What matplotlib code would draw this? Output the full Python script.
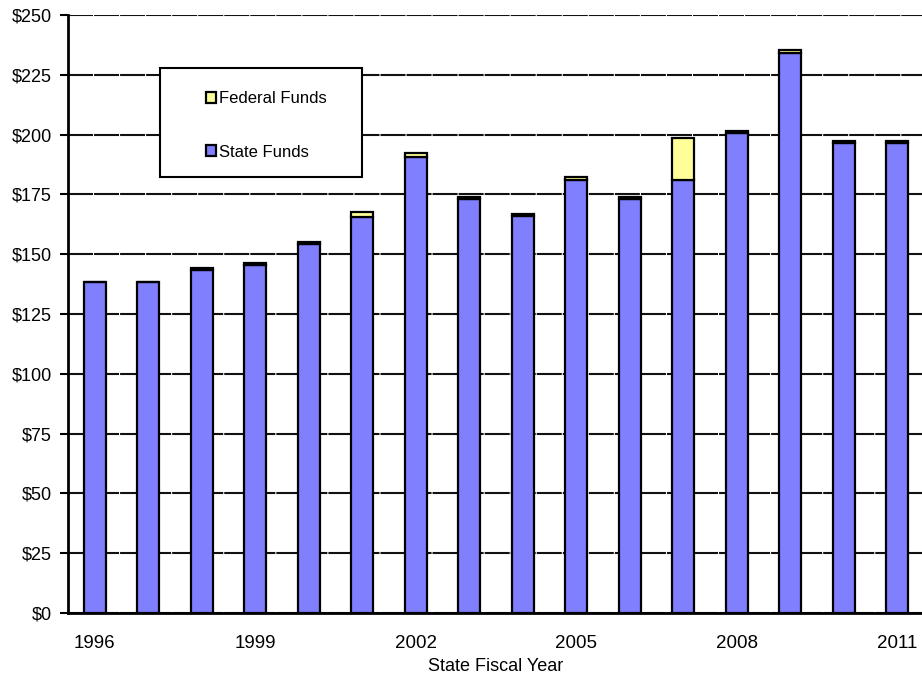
import matplotlib
matplotlib.use("Agg")
import matplotlib.pyplot as plt
import numpy as np
from matplotlib.patches import Rectangle

# funding by state fiscal year, in millions
years = list(range(1996, 2012))
state_funds = [138.5, 138.5, 143.5, 145.5, 154.2, 165.5, 190.7, 173.0,
               165.8, 181.2, 173.0, 181.0, 200.8, 234.3, 196.3, 196.3]
federal_funds = [0.0, 0.0, 0.9, 0.9, 0.8, 2.0, 1.5, 0.9,
                 0.8, 0.9, 0.9, 17.5, 0.9, 0.9, 0.9, 0.9]
y_ticks = list(range(0, 251, 25))

plt.rcParams['font.family'] = ['Liberation Sans', 'DejaVu Sans']

fig = plt.figure(figsize=(9.22, 6.83), dpi=100)
ax = fig.add_axes([68 / 922, 1 - 613 / 683, 856 / 922, 598 / 683])

x = np.arange(len(years))
w = 0.41
b_state = ax.bar(x, state_funds, w, color='#8080FF', edgecolor='black',
                 linewidth=1.6, zorder=3, label='State Funds')
b_fed = ax.bar(x, federal_funds, w, bottom=state_funds, color='#FFFF99',
               edgecolor='black', linewidth=1.6, zorder=3, label='Federal Funds')

ax.set_xlim(-0.5, len(years) - 0.5)
ax.set_ylim(0, 250)
ax.set_yticks(y_ticks)
ax.set_yticklabels(['$%d' % v for v in y_ticks], fontsize=13)
ax.yaxis.grid(True, color='#111111', linewidth=1.5, linestyle=(0, (12, 0.5)), zorder=0)

ax.set_xticks(x[::3])
ax.set_xticklabels([str(y) for y in years[::3]], fontsize=13.5)
ax.tick_params(axis='x', length=0, pad=16)
ax.tick_params(axis='y', length=6, width=1.5, direction='out', pad=5.5)
ax.set_xlabel('State Fiscal Year', fontsize=13, labelpad=4.5)

for s in ['top', 'right']:
    ax.spines[s].set_visible(False)
ax.spines['left'].set_linewidth(2)
ax.spines['bottom'].set_linewidth(2)

# legend box drawn by hand, entries placed inside
fig.patches.append(Rectangle((160 / 922, 1 - 177 / 683), 202 / 922, 109 / 683,
                             transform=fig.transFigure, facecolor='white',
                             edgecolor='black', linewidth=1.5, zorder=5))
leg = fig.legend([b_fed, b_state], ['Federal Funds', 'State Funds'],
                 loc='upper left', bbox_to_anchor=(198 / 922, 1 - 83 / 683),
                 frameon=False, fontsize=12, handlelength=0.55, handleheight=0.65,
                 handletextpad=0.2, labelspacing=2.3, borderpad=0)
leg.set_zorder(6)

fig.savefig('out.png', dpi=100)
